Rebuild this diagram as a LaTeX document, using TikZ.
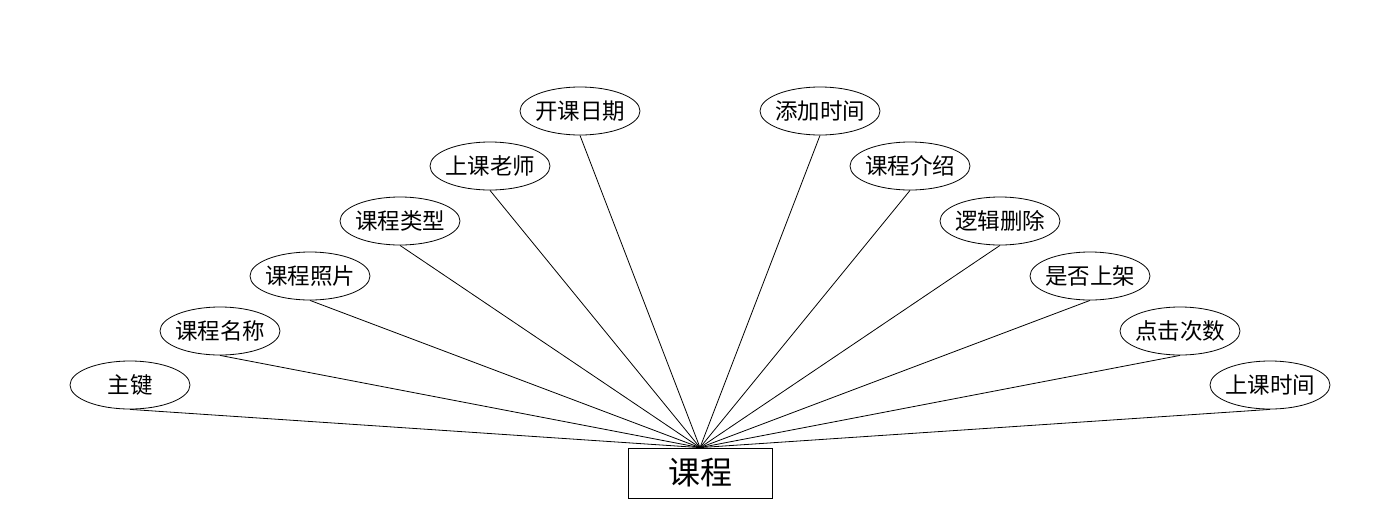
\documentclass[tikz,border=0pt]{standalone}
\usepackage{fontspec}
\setmainfont{Noto Sans CJK SC}
\usetikzlibrary{shapes.geometric}

\begin{document}
\begin{tikzpicture}[x=1pt,y=-1pt,line width=0.8pt,
  attr/.style={draw,ellipse,minimum width=120pt,minimum height=48pt,inner xsep=-6pt,inner ysep=0pt,font=\fontsize{22.5}{22.5}\selectfont},
  entity/.style={draw,rectangle,minimum width=144pt,minimum height=50pt,inner sep=0pt,font=\fontsize{32}{32}\selectfont}]
  \useasboundingbox (0,0) rectangle (1400,528);
  % entity
  \node[entity] (kc) at (700,473) {课程};
  % left attributes
  \node[attr] (zj) at (130,385) {主键};
  \node[attr] (mc) at (220,331) {课程名称};
  \node[attr] (zp) at (310,276) {课程照片};
  \node[attr] (lx) at (400,221) {课程类型};
  \node[attr] (ls) at (490,166) {上课老师};
  \node[attr] (rq) at (580,111) {开课日期};
  % right attributes
  \node[attr] (tj) at (820,111) {添加时间};
  \node[attr] (js) at (910,166) {课程介绍};
  \node[attr] (sc) at (1000,221) {逻辑删除};
  \node[attr] (sj) at (1090,276) {是否上架};
  \node[attr] (cs) at (1180,331) {点击次数};
  \node[attr] (sk) at (1270,385) {上课时间};
  % links
  \foreach \a in {zj,mc,zp,lx,ls,rq,tj,js,sc,sj,cs,sk}
    \draw (\a.south) -- (kc.north);
\end{tikzpicture}
\end{document}
